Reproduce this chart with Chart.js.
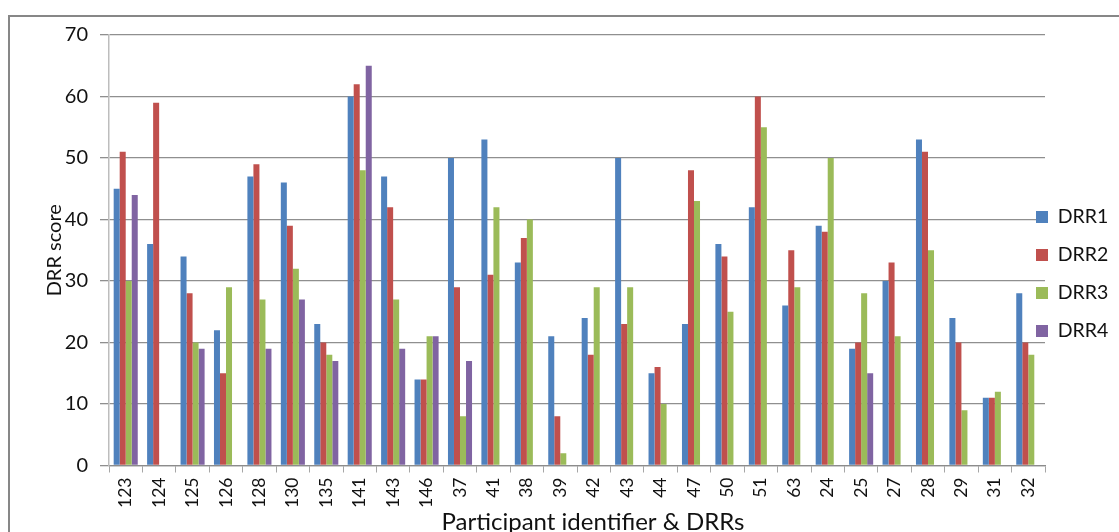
<!DOCTYPE html>
<html>
<head>
<meta charset="utf-8">
<script src="https://cdn.jsdelivr.net/npm/chart.js@4.4.0/dist/chart.umd.min.js"></script>
<style>
html,body{margin:0;padding:0;background:#fff;}
#wrap{width:1119px;height:532px;position:relative;}
</style>
</head>
<body>
<div id="wrap"><canvas id="c"></canvas></div>
<script>
const categories = ['123','124','125','126','128','130','135','141','143','146','37','41','38','39','42','43','44','47','50','51','63','24','25','27','28','29','31','32'];
const drr1 = [45,36,34,22,47,46,23,60,47,14,50,53,33,21,24,50,15,23,36,42,26,39,19,30,53,24,11,28];
const drr2 = [51,59,28,15,49,39,20,62,42,14,29,31,37,8,18,23,16,48,34,60,35,38,20,33,51,20,11,20];
const drr3 = [30,null,20,29,27,32,18,48,27,21,8,42,40,2,29,29,10,43,25,55,29,50,28,21,35,9,12,18];
const drr4 = [44,null,19,null,19,27,17,65,19,21,17,null,null,null,null,null,null,null,null,null,null,null,15,null,null,null,null,null];
const seriesNames = ['DRR1','DRR2','DRR3','DRR4'];
const seriesColors = ['#4F81BD','#C0504D','#9BBB59','#8064A2'];
const yTicks = {min:0, max:70, step:10};
const xTitle = 'Participant identifier & DRRs';
const yTitle = 'DRR score';

const FONT = 'Lato, "Open Sans", sans-serif';
const LEG_PAD = 18.5;
const LEG_FONT = 19.5;

const framePlugin = {
  id: 'frame',
  beforeDraw(chart) {
    const ctx = chart.ctx;
    ctx.save();
    ctx.strokeStyle = '#878787';
    ctx.lineWidth = 2;
    ctx.strokeRect(9, 16, 1200, 600);
    ctx.restore();
  }
};

const legendPos = {
  id: 'legendPos',
  afterInit(chart) {
    const lg = chart.legend;
    if (!lg || lg._patched) return;
    const origFit = lg.fit.bind(lg);
    lg.fit = function() { origFit(); this.width = 74; };
    lg._patched = true;
    chart.update();
  },
  afterLayout(chart) {
    const lg = chart.legend;
    if (lg) {
      const h = lg.height;
      lg.left = 1036 - LEG_PAD;
      lg.width = 1119 - lg.left;
      lg.right = 1119;
      lg.top = 188.7;
      lg.bottom = lg.top + h;
    }
    const xs = chart.scales.x;
    if (xs && !xs._tpatched) {
      const origTitle = xs.drawTitle;
      xs.drawTitle = function() {
        const ctx = this.ctx;
        ctx.save();
        ctx.translate(16, 0);
        origTitle.apply(this, arguments);
        ctx.restore();
      };
      xs._tpatched = true;
    }
  }
};

const vals = [drr1, drr2, drr3, drr4];

new Chart(document.getElementById('c'), {
  type: 'bar',
  data: {
    labels: categories,
    datasets: seriesNames.map((n, i) => ({
      label: n,
      data: vals[i],
      backgroundColor: seriesColors[i],
      borderWidth: 0,
      categoryPercentage: 0.72,
      barPercentage: 1.0
    }))
  },
  options: {
    responsive: true,
    maintainAspectRatio: false,
    animation: false,
    devicePixelRatio: 1,
    layout: { padding: { top: 35, left: 0, right: 0, bottom: 0 } },
    plugins: {
      tooltip: { enabled: false },
      legend: {
        position: 'right',
        align: 'start',
        fullSize: false,
        labels: {
          boxWidth: 12,
          boxHeight: 12,
          padding: LEG_PAD,
          color: '#111',
          font: { family: FONT, size: LEG_FONT }
        }
      }
    },
    scales: {
      x: {
        grid: {
          display: true,
          drawOnChartArea: false,
          drawTicks: true,
          tickLength: 7,
          offset: true,
          color: '#a6a6a6',
          lineWidth: 1
        },
        border: { display: true, color: '#8c8c8c', width: 1.3 },
        ticks: {
          minRotation: 90,
          maxRotation: 90,
          autoSkip: false,
          padding: 5,
          color: '#111',
          font: { family: FONT, size: 17.5 }
        },
        title: {
          display: true,
          text: xTitle,
          color: '#111',
          font: { family: FONT, size: 24 },
          padding: { top: 0, bottom: -4.8 }
        },
        afterFit(scale) { scale.height = 66.5; }
      },
      y: {
        min: yTicks.min,
        max: yTicks.max,
        grid: {
          color: '#8f8f8f',
          lineWidth: 1.3,
          tickLength: 9,
          drawTicks: true
        },
        border: { display: true, color: '#bdbdbd', width: 1.5 },
        ticks: {
          stepSize: yTicks.step,
          padding: 12,
          color: '#111',
          font: { family: FONT, size: 20 }
        },
        title: {
          display: true,
          text: yTitle,
          color: '#111',
          font: { family: FONT, size: 20 },
          padding: { top: 43, bottom: 0 }
        },
        afterFit(scale) { scale.width = 109; }
      }
    }
  },
  plugins: [framePlugin, legendPos]
});
</script>
</body>
</html>
